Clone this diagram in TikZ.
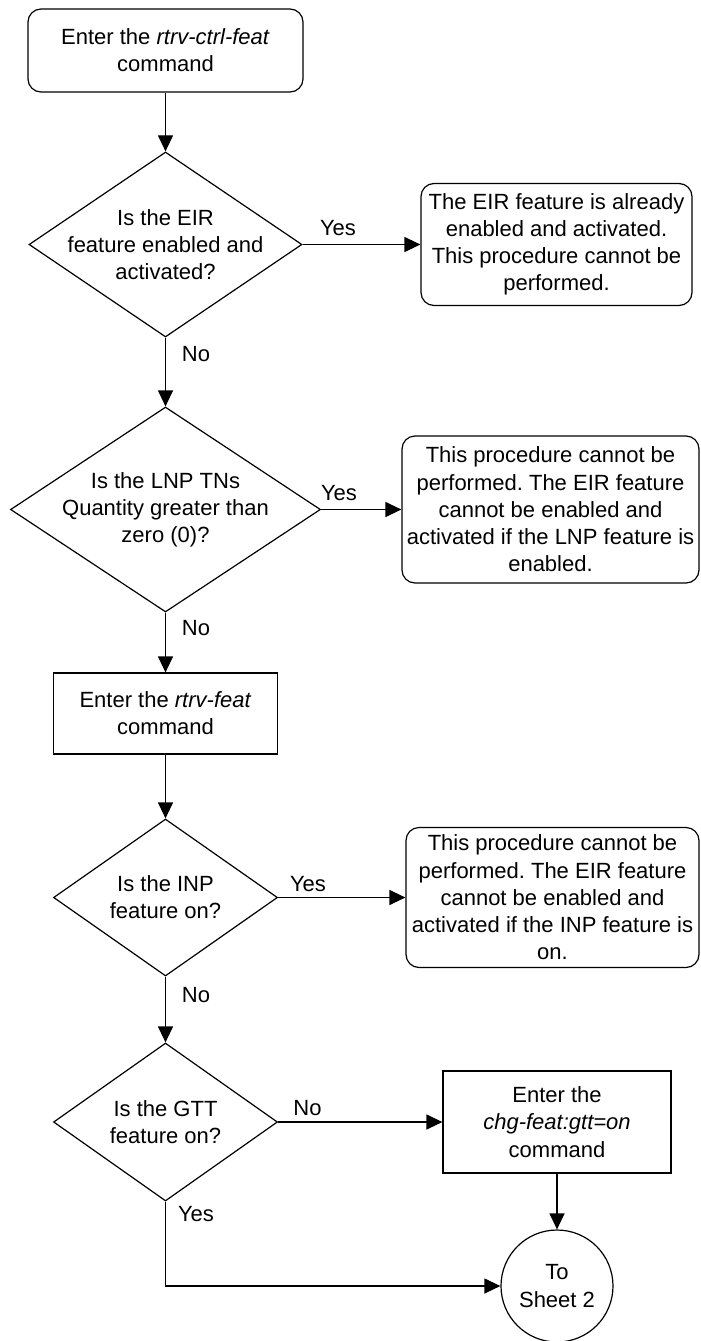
\documentclass[tikz,border=0pt]{standalone}
\usepackage{fontspec}
\setmainfont{Liberation Sans}
\usetikzlibrary{shapes.geometric,arrows.meta}
\frenchspacing
\begin{document}
\begin{tikzpicture}[x=1pt,y=-1pt,
  every node/.style={font=\fontsize{22}{27.2}\selectfont},
  box/.style={draw,line width=1.2pt,rectangle,inner sep=0pt,align=center},
  rbox/.style={box,rounded corners=13pt},
  dia/.style={draw,line width=1.2pt,diamond,inner sep=0pt},
  txt/.style={inner sep=0pt,align=center},
  lbl/.style={inner sep=0pt,anchor=base},
  circ/.style={draw,line width=1.2pt,circle,inner sep=0pt,minimum size=112pt,align=center},
  arr/.style={line width=1.2pt,-{Triangle[length=16pt,width=15pt]}},
]
\useasboundingbox (0,0) rectangle (701,1341);

% nodes
\node[rbox,minimum width=275pt,minimum height=83pt] (start) at (165.5,50.5)
  {Enter the \textit{rtrv-ctrl-feat}\\command};

\node[dia,minimum width=273pt,minimum height=185pt] (d1) at (165.5,244.5) {};
\node[txt] (d1t) at (d1.center) {Is the EIR\\feature enabled and\\activated?};

\node[rbox,minimum width=271pt,minimum height=122pt] (b1) at (556.5,244.5)
  {The EIR feature is already\\enabled and activated.\\This procedure cannot be\\performed.};

\node[dia,minimum width=310pt,minimum height=205pt] (d2) at (165.5,509.5) {};
\node[txt] (d2t) at (d2.center) {Is the LNP TNs\\Quantity greater than\\zero (0)?};

\node[rbox,minimum width=297pt,minimum height=147pt] (b2) at (550.5,509.5)
  {This procedure cannot be\\performed. The EIR feature\\cannot be enabled and\\activated if the LNP feature is\\enabled.};

\node[box,minimum width=224pt,minimum height=81pt] (rf) at (165.5,713.5)
  {Enter the \textit{rtrv-feat}\\command};

\node[dia,minimum width=224pt,minimum height=157pt] (d3) at (165.5,897.5) {};
\node[txt] (d3t) at (d3.center) {Is the INP\\feature on?};

\node[rbox,minimum width=293pt,minimum height=140pt] (b3) at (552.5,897.5)
  {This procedure cannot be\\performed. The EIR feature\\cannot be enabled and\\activated if the INP feature is\\on.};

\node[dia,minimum width=224pt,minimum height=158pt] (d4) at (165.5,1122) {};
\node[txt] (d4t) at (d4.center) {Is the GTT\\feature on?};

\node[box,minimum width=228pt,minimum height=102pt] (gtt) at (557,1122)
  {Enter the\\\textit{chg-feat:gtt=on}\\command};

\node[circ] (s2) at (557,1286) {To\\Sheet 2};

% connectors
\draw[arr] (start) -- (d1);
\draw[arr] (d1.east) -- (b1.west);
\draw[arr] (d1.south) -- (d2.north);
\draw[arr] (d2.east) -- (b2.west);
\draw[arr] (d2.south) -- (rf.north);
\draw[arr] (rf.south) -- (d3.north);
\draw[arr] (d3.east) -- (b3.west);
\draw[arr] (d3.south) -- (d4.north);
\draw[arr] (d4.east) -- (gtt.west);
\draw[arr] (gtt.south) -- (s2.north);
\draw[arr] (d4.south) |- (s2.west);

% labels
\node[lbl] (l1y) at (338,235) {Yes};
\node[lbl] (l1n) at (196,361) {No};
\node[lbl] (l2y) at (339,500) {Yes};
\node[lbl] (l2n) at (196,635) {No};
\node[lbl] (l3y) at (308,891) {Yes};
\node[lbl] (l3n) at (196,1002) {No};
\node[lbl] (l4n) at (307.5,1115) {No};
\node[lbl] (l4y) at (196,1221) {Yes};
\end{tikzpicture}
\end{document}
